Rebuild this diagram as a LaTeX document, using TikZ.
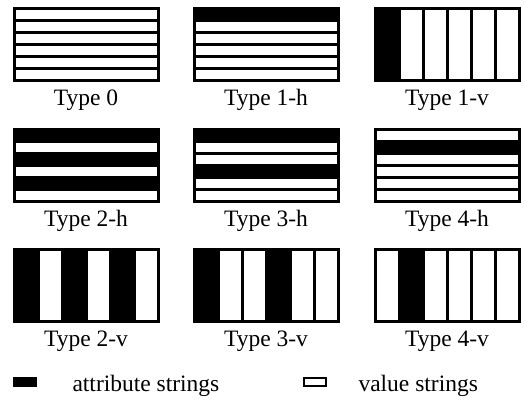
\documentclass[tikz,border=0pt]{standalone}
\usepackage{fontspec}
\setmainfont{Liberation Serif}

\begin{document}
\begin{tikzpicture}[x=1pt,y=-1pt,line width=3pt,font=\fontsize{23.5}{28}\selectfont]
\useasboundingbox (0,0) rectangle (524,400);
%type 0
\foreach \i in {1,...,5}
\draw (14,8+\i*12) -- (158,8+\i*12);
\draw (14,8) rectangle (158,80);
\node[anchor=base] (type0) at (86,105) {Type 0};
%horizontal strips
\foreach \bx/\by/\blk/\nm/\lab in {194/8/{0}/type1h/Type 1-h,
    14/129/{0,2,4}/type2h/Type 2-h, 194/129/{0,3}/type3h/Type 3-h,
    375/129/{1}/type4h/Type 4-h}{
  \foreach \k in \blk
    \filldraw (\bx,\by+\k*12) rectangle (\bx+144,\by+\k*12+12);
  \foreach \i in {1,...,5}
    \draw (\bx,\by+\i*12) -- (\bx+144,\by+\i*12);
  \draw (\bx,\by) rectangle (\bx+144,\by+72);
  \node[anchor=base] (\nm) at (\bx+72,\by+97) {\lab};
}
%vertical strips
\foreach \bx/\by/\blk/\nm/\lab in {375/8/{0}/type1v/Type 1-v,
    14/249/{0,2,4}/type2v/Type 2-v, 194/249/{0,3}/type3v/Type 3-v,
    375/249/{1}/type4v/Type 4-v}{
  \foreach \k in \blk
    \filldraw (\bx+\k*24,\by) rectangle (\bx+\k*24+24,\by+72);
  \foreach \i in {1,...,5}
    \draw (\bx+\i*24,\by) -- (\bx+\i*24,\by+72);
  \draw (\bx,\by) rectangle (\bx+144,\by+72);
  \node[anchor=base] (\nm) at (\bx+72,\by+97) {\lab};
}
%legend
\node[fill,inner sep=0pt,minimum width=24pt,minimum height=10pt] (attrkey) at (25,382) {};
\node[anchor=base west,inner sep=0pt] (attrtxt) at (71,391) {attribute strings};
\node[draw,line width=2pt,inner sep=0pt,minimum width=22pt,minimum height=8pt] (valkey) at (315,382) {};
\node[anchor=base west,inner sep=0pt] (valtxt) at (357,391) {value strings};
\end{tikzpicture}
\end{document}
